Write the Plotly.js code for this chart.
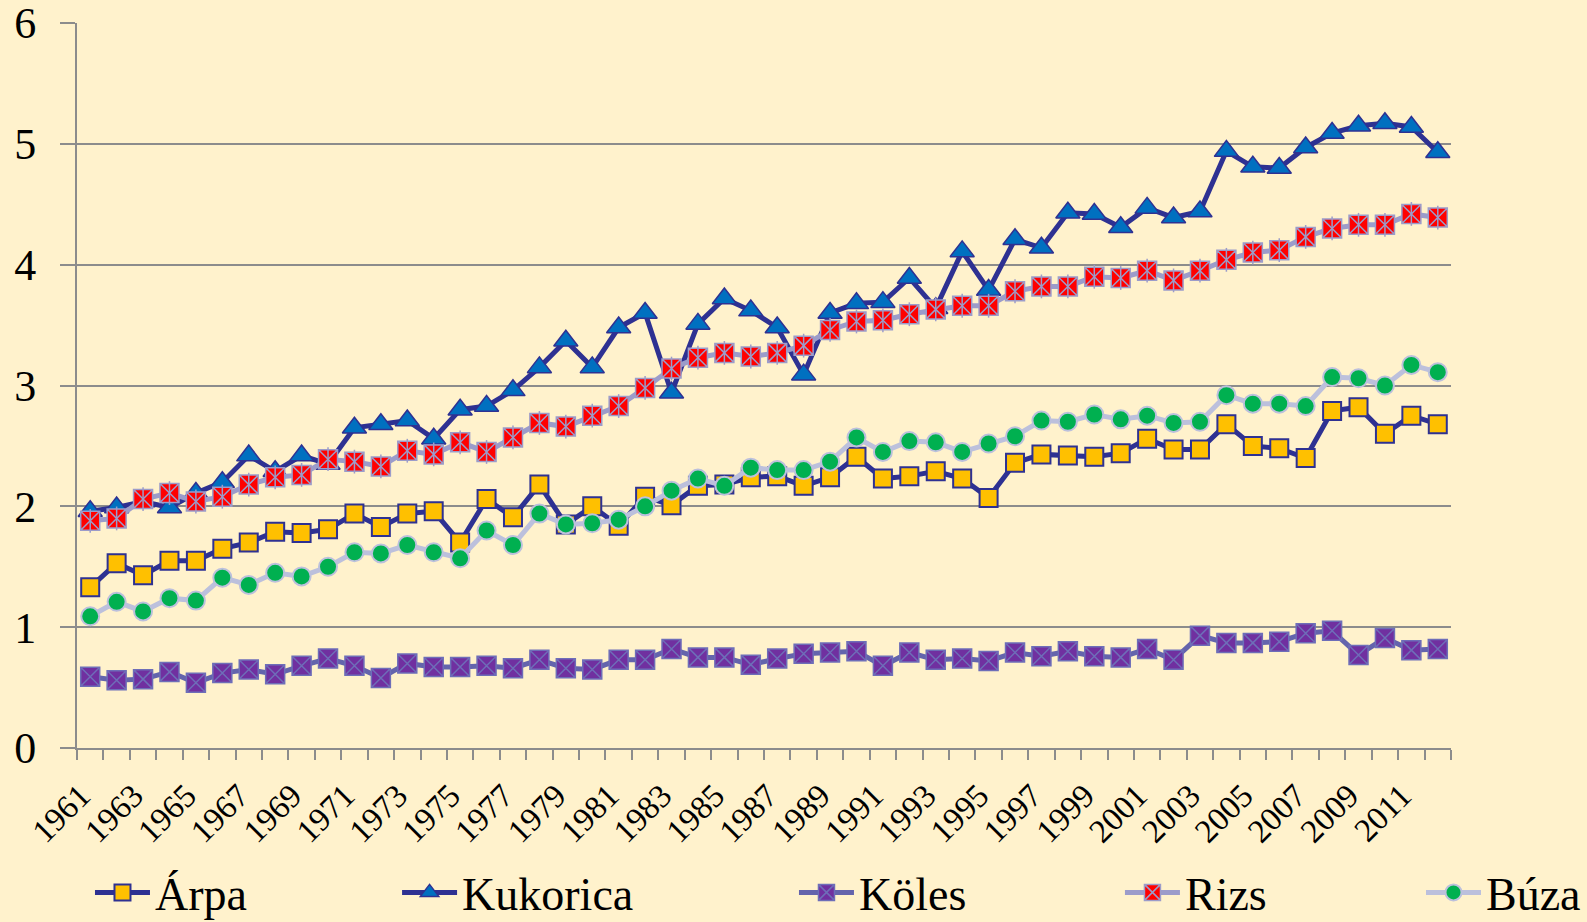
<!DOCTYPE html>
<html>
<head>
<meta charset="utf-8">
<script src="https://cdn.plot.ly/plotly-3.0.1.min.js"></script>
<style>
html,body{margin:0;padding:0;background:#FFF2CC;}
#chart{width:1587px;height:922px;}
</style>
</head>
<body>
<div id="chart"></div>
<script>
const years = [];
for (let y = 1961; y <= 2012; y++) years.push(y);

const arpa = [1.33,1.53,1.43,1.55,1.55,1.65,1.70,1.79,1.78,1.81,
  1.94,1.83,1.94,1.96,1.70,2.06,1.91,2.18,1.85,2.00,
  1.84,2.08,2.01,2.17,2.18,2.24,2.25,2.17,2.24,2.41,
  2.23,2.25,2.29,2.23,2.07,2.36,2.43,2.42,2.41,2.44,
  2.56,2.47,2.47,2.68,2.50,2.48,2.40,2.79,2.82,2.60,
  2.75,2.68];
const kukorica = [1.96,1.99,2.04,1.99,2.11,2.20,2.42,2.29,2.42,2.35,
  2.65,2.68,2.71,2.56,2.80,2.83,2.96,3.15,3.37,3.15,
  3.48,3.60,2.94,3.51,3.72,3.62,3.48,3.09,3.60,3.68,
  3.69,3.89,3.64,4.11,3.79,4.21,4.14,4.43,4.42,4.31,
  4.47,4.39,4.44,4.94,4.81,4.80,4.97,5.09,5.15,5.17,
  5.14,4.93];
const koles = [0.59,0.56,0.57,0.63,0.54,0.62,0.65,0.61,0.68,0.74,
  0.68,0.58,0.70,0.67,0.67,0.68,0.66,0.73,0.66,0.65,
  0.73,0.73,0.82,0.75,0.75,0.69,0.74,0.78,0.79,0.80,
  0.68,0.79,0.73,0.74,0.72,0.79,0.76,0.80,0.76,0.75,
  0.82,0.73,0.93,0.87,0.87,0.88,0.95,0.97,0.77,0.91,
  0.81,0.82];
const rizs = [1.88,1.90,2.06,2.11,2.04,2.08,2.18,2.24,2.26,2.39,
  2.37,2.33,2.46,2.43,2.53,2.45,2.57,2.69,2.66,2.75,
  2.83,2.98,3.14,3.23,3.27,3.24,3.27,3.33,3.46,3.53,
  3.54,3.59,3.63,3.66,3.66,3.78,3.82,3.82,3.90,3.89,
  3.95,3.87,3.95,4.04,4.10,4.12,4.23,4.30,4.33,4.33,
  4.42,4.39];
const buza = [1.09,1.21,1.13,1.24,1.22,1.41,1.35,1.45,1.42,1.50,
  1.62,1.61,1.68,1.62,1.57,1.80,1.68,1.94,1.85,1.86,
  1.89,2.00,2.13,2.23,2.17,2.32,2.30,2.30,2.37,2.57,
  2.45,2.54,2.53,2.45,2.52,2.58,2.71,2.70,2.76,2.72,
  2.75,2.69,2.70,2.92,2.85,2.85,2.83,3.07,3.06,3.00,
  3.17,3.11];

const tickYears = years.filter(y => y % 2 === 1);
const tickLabels = tickYears.map(String);
const seriesNames = ['Árpa','Kukorica','Köles','Rizs','Búza'];

// style: rotated labels are nudged left so that their end sits over the point
const LABEL_NUDGE = 0.36;

const NAVY = '#2E3192';
const traces = [
  {x: years, y: arpa, name: seriesNames[0], legend: 'legend', mode: 'lines+markers',
   line: {color: NAVY, width: 5},
   marker: {symbol: 'square', size: 18, color: '#FFC000', line: {color: NAVY, width: 2}}},
  {x: years, y: kukorica, name: seriesNames[1], legend: 'legend2', mode: 'lines+markers',
   line: {color: NAVY, width: 5},
   marker: {symbol: 'triangle-up', size: 21, color: '#0070C0', line: {color: NAVY, width: 1.5}}},
  {x: years, y: koles, name: seriesNames[2], legend: 'legend3', mode: 'lines+markers',
   line: {color: '#6464AC', width: 5},
   marker: {symbol: 'square-x', size: 19, color: '#7030A0', line: {color: '#6E6EB8', width: 1.5}}},
  {x: years, y: rizs, name: seriesNames[3], legend: 'legend4', mode: 'lines+markers',
   line: {color: '#9C9CCA', width: 5}, legendgroup: 'rizs',
   marker: {symbol: 'square-x', size: 19, color: '#FF0000', line: {color: '#9C9CCA', width: 1.5}}},
  {x: years, y: rizs, name: seriesNames[3], legend: 'legend4', mode: 'markers', showlegend: false,
   legendgroup: 'rizs', hoverinfo: 'skip',
   marker: {symbol: 'line-ns-open', size: 17, color: '#9C9CCA', line: {color: '#9C9CCA', width: 1.5}}},
  {x: years, y: buza, name: seriesNames[4], legend: 'legend5', mode: 'lines+markers',
   line: {color: '#BCC0DC', width: 5},
   marker: {symbol: 'circle', size: 18, color: '#00B050', line: {color: '#BCC0DC', width: 2}}}
];

const SERIF = 'Liberation Serif, Times New Roman, serif';
const legendFont = {family: SERIF, size: 46, color: '#000'};
function lg(x) {
  return {orientation: 'h', xref: 'container', yref: 'container',
          x: x, xanchor: 'left', y: 0.032, yanchor: 'middle',
          font: legendFont, bgcolor: 'rgba(0,0,0,0)', itemwidth: 55};
}

const layout = {
  width: 1587, height: 922,
  paper_bgcolor: '#FFF2CC', plot_bgcolor: '#FFF2CC',
  margin: {l: 77, r: 136, t: 23, b: 174},
  showlegend: true,
  legend: lg(0.0567), legend2: lg(0.2502), legend3: lg(0.5003), legend4: lg(0.7057), legend5: lg(0.8954),
  xaxis: {
    type: 'linear', range: [1960.5, 2012.5],
    tickmode: 'array', tickvals: tickYears.map(y => y - LABEL_NUDGE), ticktext: tickLabels,
    tickangle: -45, ticks: '', showgrid: false, zeroline: false,
    showline: true, linecolor: '#8C8C8C', linewidth: 2,
    ticklabelstandoff: 13,
    tickfont: {family: SERIF, size: 33, color: '#000'},
    minor: {tickmode: 'linear', tick0: 1960.5, dtick: 1, ticks: 'outside', ticklen: 10,
            tickcolor: '#8C8C8C', tickwidth: 2, showgrid: false}
  },
  yaxis: {
    range: [0, 6.0001], tickmode: 'linear', tick0: 0, dtick: 1,
    ticks: 'outside', ticklen: 15, tickcolor: '#8C8C8C', tickwidth: 2,
    showgrid: true, gridcolor: '#8C8C8C', gridwidth: 2,
    zeroline: false, showline: true, linecolor: '#8C8C8C', linewidth: 2,
    ticklabeloverflow: 'allow', ticklabelstandoff: 15,
    tickfont: {family: SERIF, size: 44, color: '#000'}
  }
};

Plotly.newPlot('chart', traces, layout, {displayModeBar: false, staticPlot: true});
</script>
</body>
</html>
